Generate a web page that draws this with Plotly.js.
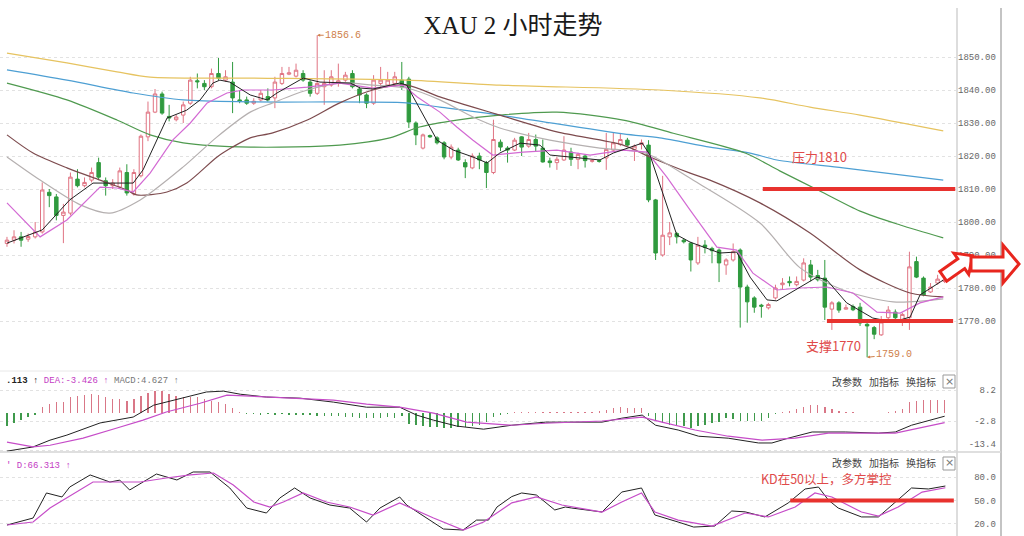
<!DOCTYPE html>
<html><head><meta charset="utf-8">
<script src="https://cdn.plot.ly/plotly-3.0.1.min.js"></script>
<style>html,body{margin:0;padding:0;background:#fff;}#chart{width:1024px;height:536px;}</style>
</head><body><div id="chart"></div>
<script>
// ---------- candles (2-hour XAU) ----------
const candleIdx = Array.from({length:134},(_,i)=>i);
const openP  = [1793.5,1794.5,1795.5,1794.8,1795.5,1797,1809,1807.6,1802,1802.7,1813,1811,1812.7,1818,1812.5,1811,1810.6,1815,1808.5,1814,1825.8,1833.3,1838.8,1832,1831,1832.4,1836,1842.8,1842,1841,1845,1843,1842.4,1837,1837,1836,1837,1838,1837.6,1842,1844.8,1844.2,1845,1842.4,1839,1841,1841.5,1842,1843,1845,1840.3,1838.5,1836,1842,1841.5,1842,1843,1843.3,1830,1822.4,1826.2,1825.5,1824,1819.7,1821.8,1818,1816.4,1820,1818,1815,1824.2,1822.4,1821.8,1825.8,1823,1825,1822.4,1818.5,1818,1818.8,1821.2,1819,1820,1818.4,1818.6,1819.4,1821.8,1823.5,1824.8,1822,1823.5,1823.3,1806.7,1790,1795.5,1796.5,1794.5,1793.6,1787.6,1793,1792,1791.5,1787,1788.5,1791.5,1780.3,1777,1774.8,1774,1777,1781,1782,1781,1782.4,1787,1783.8,1783,1773.6,1775.5,1773.6,1774.4,1774.2,1769,1768,1765.8,1771,1772.7,1770.5,1771,1788,1783,1778.8,1781.5,1782];
const highP  = [1795.5,1797.5,1797,1796.5,1800,1812,1810,1808.5,1805.5,1815,1816,1813.5,1816.5,1819.5,1813.5,1813,1816.5,1817.5,1816,1826.5,1836.5,1840.3,1839.5,1835.5,1832.5,1836.5,1844,1845,1843,1846.5,1849.7,1846,1848.5,1840,1838,1837.5,1840,1840.5,1844,1847,1847,1848,1846,1843,1856.6,1846,1846,1848,1845.5,1846,1841,1839,1844.5,1847,1845.5,1845.5,1848.5,1844,1830.5,1826.8,1826.5,1826,1824.5,1823.5,1822.5,1819,1820.8,1821,1818.5,1831,1825,1823,1825.5,1826,1827,1826.5,1825,1819.5,1819.8,1826,1822.5,1821,1820.5,1819,1819,1827,1827,1827,1825.5,1823.5,1825,1824.8,1807,1814,1800,1797,1795,1794,1795.5,1794.5,1792.5,1792,1789,1793.5,1792,1781,1777.5,1775.2,1775.5,1781,1783,1783.5,1783.5,1789,1788.5,1785.5,1788.5,1776,1776,1775,1775,1775.5,1769.5,1768.5,1771.5,1774.5,1773.5,1772.5,1791,1789.5,1783.5,1781.5,1784,1783];
const lowP   = [1792.5,1793.5,1792.5,1794,1795,1796.5,1804.5,1800.5,1793.6,1802,1810.5,1810.5,1812,1813,1808,1810,1810,1808,1808,1813.5,1824.5,1833,1832.5,1830.5,1830.5,1830,1835.5,1840.5,1840,1840.5,1843,1842.5,1833,1836,1835.5,1835.5,1836.5,1836.5,1834.5,1841.5,1844.5,1843.8,1842.5,1838,1838.5,1835.5,1841,1841,1842.5,1840.5,1836,1834.5,1835.5,1841,1841,1841.5,1840,1828.5,1823.3,1822,1825.5,1823.5,1819,1819,1818.5,1813.3,1816,1816,1810.3,1814.5,1821.5,1818,1821.5,1820,1822.5,1821.5,1818,1816.5,1815.8,1818.5,1817,1816,1816.5,1818,1818,1815.8,1821.5,1823,1823,1818.5,1822,1806,1788.5,1789.5,1793,1793.5,1793.5,1785,1787,1790.5,1787.5,1781.8,1784,1788,1768,1769.5,1772.5,1771,1773.5,1776.5,1779.5,1780.5,1780.5,1782,1782,1782,1770.3,1767.3,1772.5,1773.5,1773,1768.5,1759,1764.5,1765.5,1770.5,1769.5,1768.5,1767.3,1783,1777.5,1778.5,1781,1781.5];
const closeP = [1794.5,1795.5,1794.5,1795.6,1797,1809.7,1808,1802,1803,1813.6,1811,1812,1815,1813.6,1811,1811.8,1815.5,1808.8,1815,1826,1833.3,1838.8,1833,1831.5,1831.8,1835.5,1843,1842.5,1841,1845,1843.6,1844,1837.6,1836.7,1836,1836.6,1839,1837,1842.4,1845,1845.2,1846,1843,1839,1842,1842,1844,1842.8,1844.5,1841,1838.5,1836,1843,1843,1843,1844,1841,1830.3,1826.4,1826.4,1825.8,1824,1819.7,1822.7,1818.8,1816.7,1820,1818.8,1815,1825,1822.7,1821.8,1824.8,1822.7,1825,1823,1818.2,1818,1819,1821.8,1819,1820.5,1818.6,1818.6,1818.4,1822,1824,1825,1823.3,1823,1824,1806.7,1790.6,1796,1796.7,1795.5,1794,1788.5,1793,1792.3,1791.3,1787.6,1788.5,1791,1780.3,1775.8,1774.2,1774.5,1775,1780,1781.5,1781.6,1782,1787.6,1783.3,1782.5,1774.2,1775.5,1773.3,1774,1773.4,1769.4,1768.5,1766,1769.7,1773.3,1771,1772,1786.4,1783.3,1777.9,1780.3,1782.7,1782.5];

// ---------- moving averages (position, price) ----------
const ma5X = [0,3.7,5,8.9,12.2,14.6,17.9,19.3,21.3,22.7,25.5,27.4,29.2,30.2,31.6,34.5,36.9,38.3,42,44.4,48.7,50.1,51.9,55.7,56.7,61,63.3,66.1,68.1,69.9,72.8,75.6,77,80.3,84.1,86,88.4,90.1,91.2,95,96.9,101.1,103.5,105.4,107.8,109.2,114.9,116.3,119.1,122.8,125.7,128.1,129.5,132.8];
const ma5Y = [1793.6,1796.7,1797.6,1806.7,1811.8,1811.8,1811.8,1815.8,1824.8,1831.5,1833.9,1837,1842.1,1843,1842.4,1838.5,1837,1839.1,1843.6,1842.4,1842.1,1840.6,1840.3,1842.1,1841.5,1824.8,1821.8,1819.7,1817.9,1820.9,1823.9,1823.3,1820.3,1819.7,1818.8,1820.9,1822.7,1823.9,1820.3,1796.1,1793.9,1790.6,1790.9,1783.3,1776.4,1776.1,1783.3,1782.4,1775.5,1770.9,1769.7,1771.2,1777.9,1782.4];
const ma10X = [0,4.7,8.5,13.2,15.6,17.9,20.3,23.5,26,28.4,31.2,33.5,37.7,42.6,47.2,51.9,56.2,58.2,61.4,63.8,66.1,68.9,73.2,78,82.7,87.4,90.8,93.6,96.9,100.7,103.5,105.8,109.2,112.5,116.3,120,123.4,126.7,129.5,132.8];
const ma10Y = [1805.8,1795.5,1800.6,1810.6,1810.3,1809.1,1814.8,1824.8,1830,1836.1,1839.1,1840,1840,1840.9,1842.1,1840.6,1841.5,1837.9,1833.3,1828.8,1824.8,1820.3,1821.2,1821.8,1820.3,1821.8,1821.2,1813.6,1803.6,1792.4,1791.5,1784.5,1779.4,1780,1780.3,1778.5,1772.7,1772.4,1775.5,1777.3];
const ma20X = [0,4.7,10.4,14.6,18.9,25,29.8,34.5,37.7,42.6,47.2,51.9,56.7,61.4,66.1,69.9,77,84.1,90.5,97.3,106.8,112.5,118.6,125.7,132.8];
const ma20Y = [1819.7,1812.7,1805.2,1802.7,1806.7,1816.7,1825.8,1833.3,1836.1,1840,1842.1,1841.5,1840.6,1837,1831.8,1828.5,1824.8,1822.4,1820.9,1812.7,1799.7,1786.1,1779.4,1775.8,1776.7];
const ma30X = [0,3.7,8.5,13.2,17,18.4,22.7,25.5,29.8,32,34.5,37.7,42.6,47.2,51.9,56.7,61.4,66.1,69.9,78,87.4,91.2,96.9,99.7,106.8,113.9,121,128.1,132.8];
const ma30Y = [1826.4,1820.9,1816.4,1812.7,1809.7,1808.2,1809.1,1811.8,1819.7,1822.7,1825.5,1827,1830.9,1836.1,1840,1841.5,1837.9,1834.8,1832.4,1827.3,1823.3,1819.7,1814.8,1812.7,1805.8,1796.7,1785.5,1778.5,1777.3];
const ma60X = [0,8.5,15.6,20.3,25,34.5,47.2,54.3,58.5,63.8,69.9,78,87.4,94.5,104.7,109.6,115.3,121,126.7,132.8];
const ma60Y = [1842.1,1837,1830.9,1826.4,1824,1822.7,1823.3,1825.5,1828.8,1830.9,1832.4,1833.3,1830.9,1826.9,1820.9,1815.5,1809.4,1803.3,1799.1,1795.2];
const ma120X = [0,8.5,17.9,25,34.5,56.7,61.4,69.9,87.4,92.6,99.7,105.4,109.2,118.6,132.8];
const ma120Y = [1846.1,1843,1839.1,1837,1836.4,1836.1,1834.8,1832.4,1826.7,1825.5,1822.7,1820.9,1818.8,1816.4,1812.7];
const ma250X = [0,8.5,15.6,20.3,34.5,56.7,69.9,92.6,106.8,113.9,121,132.8];
const ma250Y = [1851.2,1848.2,1845.5,1843.9,1843.6,1843,1841.5,1840,1837.6,1834.8,1832.4,1827.6];

// ---------- MACD ----------
const macdHist = [-4.7,-3.5,-2.4,-1.4,-0.6,2.0,3.2,3.8,4.1,5.6,6.1,6.5,6.7,6.5,5.6,5.0,5.0,4.4,5.0,6.1,7.0,7.9,7.9,6.7,6.1,5.6,5.6,5.6,5.0,4.4,4.1,3.2,1.8,0.3,-0.4,-0.3,-0.5,-0.3,-0.6,-0.4,-0.7,-0.5,-0.8,-0.6,-1.0,-0.9,-1.0,-1.2,-1.4,-1.5,-1.7,-1.9,-1.6,-1.6,-1.5,-1.7,-1.2,-3.9,-4.3,-4.5,-4.8,-5.1,-5.2,-5.2,-5.0,-5.0,-4.6,-4.3,-3.0,-1.5,-0.8,-0.4,0.3,0.4,0.3,0.5,0.3,0.3,0.4,0.3,0.4,0.3,0.5,0.5,0.6,1.2,1.8,2.0,1.9,1.8,1.8,-1.2,-2.4,-3.5,-4.1,-4.7,-4.7,-5.2,-4.7,-4.1,-3.5,-3.0,-1.8,-2.2,-2.8,-2.8,-2.8,-2.8,-1.8,-0.4,0.3,0.7,1.5,2.3,2.9,2.9,2.1,1.3,0.8,0.5,0.3,0.2,0.1,0.1,0.2,0.4,0.8,1.5,3.8,4.3,4.6,4.7,4.6,4.6];
const difX = [0,3.7,6.1,8.5,13.2,17.9,20.8,25,28.3,30.7,33.1,36.8,41.6,46.3,51,55.7,58.1,60.5,63.8,67.6,71.6,76.4,84.4,87.2,90.1,92,95.2,98.1,102.3,106.6,108.5,110.8,114.2,118.9,123.6,126,128.3,133];
const difY = [-13.5,-12,-9.6,-7.8,-3.5,-1.4,2.8,5.3,7.5,7.8,6.7,5.7,5.3,3.9,2.1,2.1,-0.7,-2.5,-4.6,-5.7,-4.3,-3.2,-3.2,-1.8,-0.7,-4.3,-6,-8.2,-8.9,-10.6,-10.6,-8.9,-6.7,-6.7,-7.1,-6.7,-4.3,-1.1];
const deaX = [0,3.7,6.1,10.8,15.6,19.3,22.6,27.4,31.2,36.8,41.6,46.3,51,55.7,60.5,65.2,71.6,76.4,84.4,90.1,92.9,97.6,102.3,107.1,111.8,116.5,121.2,126,133];
const deaY = [-10.3,-12,-11.4,-8.9,-5.3,-2.5,0.4,3.5,6.4,5.7,5.3,4.6,3.2,2.1,0,-3.2,-4.3,-3.6,-2.8,-1.4,-3.2,-6,-8.2,-9.6,-8.9,-7.1,-7.1,-7.1,-3.4];

// ---------- KD ----------
const kX = [0,3.7,5.6,7.8,8.9,11.8,14.6,16,17.4,21.2,24.1,26.4,28.8,31.6,34,36.8,38.7,40.8,43,45.8,48.6,51,52.9,55.7,56.7,61.9,64.7,66.6,68.3,69.5,71.6,73,75.1,77.7,79.2,80.1,84.4,87.2,90,91.9,95.2,97.4,100.4,102.8,104.7,107.5,110.8,113.2,115.1,116.5,117.9,121.2,123.6,126.4,128.3,130.7,133.1];
const kY = [18.7,27.6,59.6,54.5,67.2,82.6,73.6,76,63.4,83.8,76.2,86.4,86.4,66,40.4,34,53.2,66,53.2,44.2,40.4,22.5,40.4,54.5,44.2,13.6,12.3,25,25,41.7,55,59.6,57,37.9,41.7,40.4,35.3,60.8,66,31.5,22.5,16.1,17.4,36.6,35.5,29,46.8,64.7,67.2,50.6,40.4,29,29,50.6,66,64.7,68.5];
const dX = [0,3.7,6.1,8.5,12.2,15.6,18.9,22.6,26,29.3,32.1,35,37.3,39.2,42,45.3,48.6,51.9,55.7,60.5,64.7,67.6,71.6,75.1,78.7,84.4,87.2,90,91.9,95.2,100,104.7,108,111.8,114.6,117,121.2,123.6,126.4,129.8,133.1];
const dY = [18.7,22.5,40.4,53.2,73.6,73.6,73.6,78.7,82.6,85.1,69.8,48.1,41.7,48.1,59.6,48.1,41.7,31.5,46.8,27.6,12.3,22.5,47,54.5,44.2,35.3,48.1,59.6,35.3,25,17.4,34,29,41.7,59.6,54.5,35.3,30.2,41.7,60.8,66.3];

// ---------- axis labels ----------
const priceTicks = [1770,1780,1790,1800,1810,1820,1830,1840,1850];
const priceTickText = ['1770.00','1780.00','1790.00','1800.00','1810.00','1820.00','1830.00','1840.00','1850.00'];
const macdTicks = [8.2,-2.8,-13.4];
const macdTickText = ['8.2','-2.8','-13.4'];
const kdTicks = [80,50,20];
const kdTickText = ['80.0','50.0','20.0'];
const padL = s => '\u00a0'.repeat(Math.max(0,7-s.length)) + s;

// ---------- geometry helpers for decorations ----------
const PW = 957, PH = 536;
const px = x => x/PW, py = y => 1 - y/PH;
const pathOf = pts => 'M' + pts.map(p => px(p[0]).toFixed(5)+','+py(p[1]).toFixed(5)).join(' L') + ' Z';

const mono = 'Liberation Mono, DejaVu Sans Mono, monospace';
const cjk = 'Noto Sans CJK SC, Noto Sans, sans-serif';
const RED = '#e8322e';

function maTrace(x, y, color, shape, w) {
  return {type:'scatter', mode:'lines', x, y, xaxis:'x', yaxis:'y',
    line:{color, width:w||1, shape:shape||'linear', smoothing:0.8}, hoverinfo:'skip', showlegend:false};
}

const traces = [
  {type:'candlestick', x:candleIdx, open:openP, high:highP, low:lowP, close:closeP,
   xaxis:'x', yaxis:'y', whiskerwidth:0, hoverinfo:'skip', showlegend:false,
   increasing:{line:{color:'#e07382', width:1}, fillcolor:'#ffffff'},
   decreasing:{line:{color:'#2f9a3e', width:1}, fillcolor:'#2f9a3e'}},
  maTrace(ma250X, ma250Y, '#e6c360', 'spline', 1.2),
  maTrace(ma120X, ma120Y, '#4d9fd3', 'spline', 1.2),
  maTrace(ma60X, ma60Y, '#4f9a4f', 'spline', 1.2),
  maTrace(ma30X, ma30Y, '#7d4b4e', 'spline', 1.2),
  maTrace(ma20X, ma20Y, '#b5b0b0', 'spline', 1.2),
  maTrace(ma10X, ma10Y, '#d36ad3', 'linear', 1.2),
  maTrace(ma5X, ma5Y, '#222222', 'linear', 1),
  {type:'bar', x:candleIdx, y:macdHist, xaxis:'x2', yaxis:'y2', width:0.2,
   marker:{color:macdHist.map(v => v >= 0 ? '#d97787' : '#3f9a4c'), line:{width:0}},
   hoverinfo:'skip', showlegend:false},
  {type:'scatter', mode:'lines', x:difX, y:difY, xaxis:'x2', yaxis:'y2', line:{color:'#222', width:1}, hoverinfo:'skip', showlegend:false},
  {type:'scatter', mode:'lines', x:deaX, y:deaY, xaxis:'x2', yaxis:'y2', line:{color:'#c64cc8', width:1.2}, hoverinfo:'skip', showlegend:false},
  // empty carrier so the overlay axis holding the bottom MACD label is drawn
  {type:'scatter', mode:'lines', x:[], y:[], xaxis:'x2', yaxis:'y4', hoverinfo:'skip', showlegend:false},
  {type:'scatter', mode:'lines', x:kX, y:kY, xaxis:'x3', yaxis:'y3', line:{color:'#222', width:1}, hoverinfo:'skip', showlegend:false},
  {type:'scatter', mode:'lines', x:dX, y:dY, xaxis:'x3', yaxis:'y3', line:{color:'#c64cc8', width:1.2}, hoverinfo:'skip', showlegend:false}
];

const xr = [-0.99, 134.75];
const macdRange = [-13.8, 14.59];
const yCommon = {side:'right', showgrid:true, gridcolor:'#e2e2e2', griddash:'dot', zeroline:false,
  showline:false, ticks:'', tickfont:{family:mono, size:9, color:'#666'}, fixedrange:true};

function pAnn(x, y, text, font, extra) {
  return Object.assign({xref:'paper', yref:'paper', x:px(x), y:py(y), xanchor:'center', yanchor:'middle',
    showarrow:false, text, font}, extra||{});
}

const layout = {
  width:1024, height:536, margin:{l:0, r:67, t:0, b:0},
  paper_bgcolor:'#ffffff', plot_bgcolor:'#ffffff', showlegend:false, bargap:0,
  title:{text:'XAU 2 小时走势', xref:'container', yref:'container', x:513/1024, y:1-25/536,
    xanchor:'center', yanchor:'middle', font:{family:'Liberation Serif, Noto Sans CJK SC, serif', size:25, color:'#1a1a1a'}},
  xaxis:{domain:[0,1], range:xr, visible:false, anchor:'y', fixedrange:true, rangeslider:{visible:false}},
  xaxis2:{domain:[0,1], range:xr, visible:false, anchor:'y2', fixedrange:true},
  xaxis3:{domain:[0,1], range:xr, visible:false, anchor:'y3', fixedrange:true},
  yaxis:Object.assign({}, yCommon, {domain:[1-368/536, 1-8/536], range:[1755.76,1864.85],
    tickvals:priceTicks, ticktext:priceTickText.map(padL)}),
  yaxis2:Object.assign({}, yCommon, {domain:[1-452/536, 1-372/536], range:macdRange,
    tickvals:macdTicks, ticktext:macdTickText.map((s,i)=> i===2 ? '' : padL(s))}),
  yaxis4:Object.assign({}, yCommon, {overlaying:'y2', anchor:'x2', range:macdRange, showgrid:false,
    tickvals:[macdTicks[2]], ticktext:[padL(macdTickText[2])], ticklabelshift:-7}),
  yaxis3:Object.assign({}, yCommon, {domain:[0, 1-455/536], range:[4.67,108.1],
    tickvals:kdTicks, ticktext:kdTickText.map(padL)}),
  shapes:[
    {type:'line', xref:'paper', yref:'paper', x0:px(957), x1:px(957), y0:py(8), y1:py(536), line:{color:'#dddddd', width:2}},
    {type:'line', xref:'paper', yref:'paper', x0:px(1001), x1:px(1001), y0:py(8), y1:py(536), line:{color:'#c4c4c4', width:2}},
    {type:'line', xref:'paper', yref:'paper', x0:0, x1:px(957), y0:py(371), y1:py(371), line:{color:'#e8e8e8', width:1}},
    {type:'line', xref:'paper', yref:'paper', x0:0, x1:px(1001), y0:py(452), y1:py(452), line:{color:'#d4d4d4', width:1.5}},
    {type:'line', xref:'x', yref:'y', x0:107.2, x1:134.5, y0:1810, y1:1810, line:{color:RED, width:4}},
    {type:'line', xref:'x', yref:'y', x0:116.3, x1:134.2, y0:1770, y1:1770, line:{color:RED, width:4}},
    {type:'line', xref:'x3', yref:'y3', x0:111.1, x1:134.3, y0:50, y1:50, line:{color:RED, width:4}},
    {type:'rect', xref:'paper', yref:'paper', x0:px(943), x1:px(955), y0:py(375), y1:py(388), line:{color:'#999', width:1}, fillcolor:'#fff'},
    {type:'rect', xref:'paper', yref:'paper', x0:px(943), x1:px(955), y0:py(457), y1:py(470), line:{color:'#999', width:1}, fillcolor:'#fff'},
    {type:'path', xref:'paper', yref:'paper', layer:'above', fillcolor:'#ffffff', line:{color:'#e8261e', width:3},
     path:pathOf([[939.8,271.4],[957.8,258.8],[953.8,253.1],[972.7,255.7],[968.7,274.4],[964.7,268.6],[946.7,281.2]])},
    {type:'path', xref:'paper', yref:'paper', layer:'above', fillcolor:'#ffffff', line:{color:'#e8261e', width:3},
     path:pathOf([[971,257],[1003,257],[1003,245],[1019,264],[1003,283],[1003,271],[971,271]])}
  ],
  annotations:[
    {xref:'x', yref:'y', x:44, y:1856.6, text:'1856.6', showarrow:true, arrowhead:2, arrowsize:0.6, arrowwidth:1,
     arrowcolor:'#cf7f4a', ax:26, ay:0, font:{family:mono, size:10, color:'#cf7f4a'}},
    {xref:'x', yref:'y', x:122, y:1759, text:'1759.0', showarrow:true, arrowhead:2, arrowsize:0.6, arrowwidth:1,
     arrowcolor:'#cf7f4a', ax:27, ay:-3, font:{family:mono, size:10, color:'#cf7f4a'}},
    {xref:'x', yref:'y', x:115.2, y:1820, text:'压力1810', showarrow:false, font:{family:cjk, size:13, color:'#e04a4a'}},
    {xref:'x', yref:'y', x:117.2, y:1762.7, text:'支撑1770', showarrow:false, font:{family:cjk, size:13, color:'#e04a4a'}},
    {xref:'x3', yref:'y3', x:116.3, y:77.5, text:'KD在50以上，多方掌控', showarrow:false, font:{family:cjk, size:12.5, color:'#e04a4a'}},
    pAnn(4, 381, '<span style="color:#222"><b>.113</b> ↑</span> <span style="color:#c43cc4">DEA:-3.426 ↑</span> <span style="color:#777">MACD:4.627 ↑</span>',
      {family:mono, size:9}, {xanchor:'left'}),
    pAnn(4, 466, '<span style="color:#c43cc4">\' D:66.313 ↑</span>', {family:mono, size:9}, {xanchor:'left'}),
    ...[381, 462].flatMap(yy => [
      pAnn(846.5, yy, '改参数', {family:cjk, size:10, color:'#444'}),
      pAnn(884, yy, '加指标', {family:cjk, size:10, color:'#444'}),
      pAnn(921, yy, '换指标', {family:cjk, size:10, color:'#444'}),
      pAnn(949, yy + 0.5, '×', {family:'DejaVu Sans', size:11, color:'#777'})
    ])
  ]
};

Plotly.newPlot('chart', traces, layout, {staticPlot:true, displayModeBar:false});
</script>
</body></html>
